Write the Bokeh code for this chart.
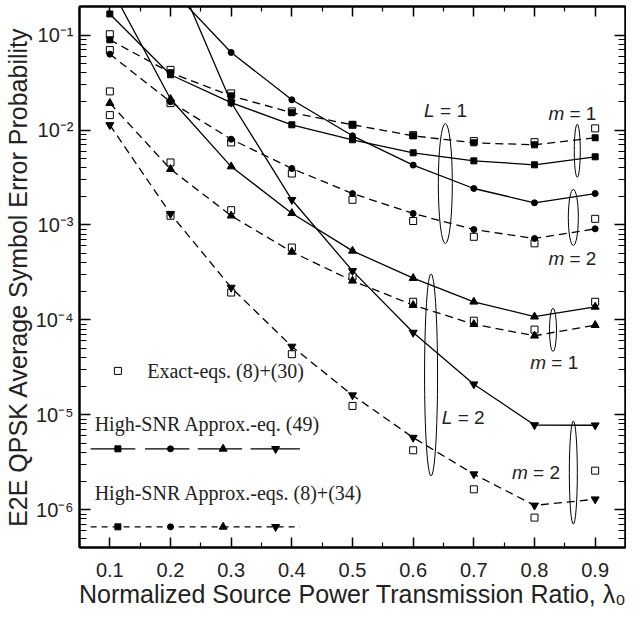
import math
from bokeh.plotting import figure
from bokeh.models import (LogAxis, LinearAxis, FixedTicker, CustomJSTickFormatter, Range1d)
from bokeh.core.properties import value
from bokeh.embed import file_html
from bokeh.resources import INLINE

nan = float("nan")

# ---------------- data ----------------
lam = [0.1, 0.2, 0.3, 0.4, 0.5, 0.6, 0.7, 0.8, 0.9]

# High-SNR approx. eq. (49)  (solid lines)
a49_L1m1 = [0.167, 0.0382, 0.0194, 0.01135, 0.00789, 0.00575, 0.00473, 0.0043, 0.00522]
a49_L1m2 = [nan, 0.31, 0.0656, 0.0208, 0.00869, 0.00427, 0.00242, 0.00171, 0.00214]
a49_L2m1 = [0.33, 0.0212, 0.00412, 0.00133, 0.000533, 0.000275, 0.000155, 0.000108, 0.000137]
a49_L2m2 = [nan, 0.6, 0.0195, 0.00184, 0.000328, 7.35e-5, 2.1e-5, 7.8e-6, 7.76e-6]

# High-SNR approx. eqs. (8)+(34)  (dashed lines)
a34_L1m1 = [0.0892, 0.0401, 0.0229, 0.0152, 0.01135, 0.00869, 0.00733, 0.00698, 0.00828]
a34_L1m2 = [0.063, 0.0198, 0.008, 0.00393, 0.00214, 0.00132, 0.000895, 0.00072, 0.00091]
a34_L2m1 = [0.0192, 0.00387, 0.00125, 0.00052, 0.000258, 0.000143, 9.0e-5, 6.8e-5, 8.8e-5]
a34_L2m2 = [0.0113, 0.00131, 0.000219, 5.24e-5, 1.61e-5, 5.75e-6, 2.37e-6, 1.11e-6, 1.29e-6]

# Exact eqs. (8)+(30)  (open squares)
ex_L1m1 = [0.102, 0.043, 0.0243, 0.0157, 0.01135, 0.00883, 0.00764, 0.00745, 0.0104]
ex_L1m2 = [0.0695, 0.0192, 0.0074, 0.00348, 0.00184, 0.0011, 0.00075, 0.00064, 0.00116]
ex_L2m1 = [0.0255, 0.00455, 0.00143, 0.000578, 0.000286, 0.000155, 9.8e-5, 7.9e-5, 0.000155]
ex_L2m2 = [0.01435, 0.00125, 0.000194, 4.35e-5, 1.24e-5, 4.23e-6, 1.64e-6, 8.26e-7, 2.58e-6]

x_ticks = [0.1, 0.2, 0.3, 0.4, 0.5, 0.6, 0.7, 0.8, 0.9]
x_minor = [0.05, 0.15, 0.25, 0.35, 0.45, 0.55, 0.65, 0.75, 0.85, 0.95]
y_ticks = [1e-6, 1e-5, 1e-4, 1e-3, 1e-2, 1e-1]
y_minor = [k * 10.0 ** e for e in range(-7, 0) for k in range(2, 10)]

x_label = "Normalized Source Power Transmission Ratio, \u03bb\u2080"
y_label = "E2E QPSK Average Symbol Error Probability"
legend_labels = ["Exact-eqs. (8)+(30)", "High-SNR Approx.-eq. (49)", "High-SNR Approx.-eqs. (8)+(34)"]

# ---------------- figure ----------------
SANS = "Liberation Sans"
SERIF = "Liberation Serif"
TXT = "#222222"

p = figure(width=626, height=610, y_axis_type="log",
           x_range=Range1d(0.05, 0.95), y_range=Range1d(4e-7, 0.2),
           output_backend="svg", toolbar_location=None,
           min_border_left=60, min_border_right=1, min_border_top=6, min_border_bottom=63)
p.background_fill_color = "white"
p.border_fill_color = "white"
p.outline_line_color = "black"
p.outline_line_width = 2
p.xgrid.visible = False
p.ygrid.visible = False

sup_js = """
const e = Math.round(Math.log10(tick));
const sup = {'-':'\u207b','0':'\u2070','1':'\u00b9','2':'\u00b2','3':'\u00b3','4':'\u2074','5':'\u2075','6':'\u2076','7':'\u2077','8':'\u2078','9':'\u2079'};
return '10' + String(e).split('').map(c => sup[c]).join('');
"""

def style_axis(ax, major_len, minor_len):
    ax.axis_line_width = 2
    ax.axis_line_color = "black"
    ax.major_tick_in = major_len
    ax.major_tick_out = 0
    ax.minor_tick_in = minor_len
    ax.minor_tick_out = 0
    ax.major_tick_line_width = 1.5
    ax.minor_tick_line_width = 1.2
    ax.major_label_text_font = SANS
    ax.major_label_text_color = TXT
    ax.axis_label_text_font = SANS
    ax.axis_label_text_font_style = "normal"
    ax.axis_label_text_color = TXT

xt = FixedTicker(ticks=x_ticks, minor_ticks=x_minor)
yt = FixedTicker(ticks=y_ticks, minor_ticks=y_minor)

xa = p.xaxis[0]
xa.ticker = xt
style_axis(xa, 10, 5)
xa.major_label_text_font_size = "20px"
xa.major_label_standoff = 15
xa.axis_label = x_label
xa.axis_label_text_font_size = "25px"
xa.axis_label_standoff = 0

ya = p.yaxis[0]
ya.ticker = yt
ya.formatter = CustomJSTickFormatter(code=sup_js)
style_axis(ya, 11, 7)
ya.major_label_text_font_size = "20px"
ya.major_label_standoff = 6
ya.axis_label = y_label
ya.axis_label_text_font_size = "25px"
ya.axis_label_standoff = 1

top = LinearAxis(ticker=xt, formatter=CustomJSTickFormatter(code="return ''"))
style_axis(top, 10, 5)
top.major_label_text_font_size = "0px"
top.major_label_standoff = 0
p.add_layout(top, "above")

right = LogAxis(ticker=yt, formatter=CustomJSTickFormatter(code="return ''"))
style_axis(right, 11, 7)
right.major_label_text_font_size = "0px"
right.major_label_standoff = 0
p.add_layout(right, "right")

# ---------------- curves ----------------
LW = 1.3
DASH = "8 5"
series = [
    (a49_L1m1, a34_L1m1, ex_L1m1, "square", 6),
    (a49_L1m2, a34_L1m2, ex_L1m2, "circle", 6),
    (a49_L2m1, a34_L2m1, ex_L2m1, "triangle", 8),
    (a49_L2m2, a34_L2m2, ex_L2m2, "inverted_triangle", 8),
]
for s49, s34, sex, mk, ms in series:
    p.line(lam, s49, line_color="black", line_width=LW)
    p.line(lam, s34, line_color="black", line_width=LW, line_dash=DASH)
for s49, s34, sex, mk, ms in series:
    p.scatter(lam, sex, marker="square", size=7, fill_color="white", line_color="black", line_width=1)
for s49, s34, sex, mk, ms in series:
    p.scatter(lam, s49, marker=mk, size=ms, fill_color="black", line_color="black")
    p.scatter(lam, s34, marker=mk, size=ms, fill_color="black", line_color="black")

# ---------------- annotations ----------------
def lab(x, y, name, num):
    p.text([x], [y], text=[name], text_font=value(SANS), text_font_style="italic",
           text_font_size="19px", text_baseline="middle", text_align="left", text_color=TXT)
    off = 16 if name == "L" else 21
    p.text([x], [y], text=["= " + num], text_font=value(SANS), text_font_size="19px",
           text_baseline="middle", text_align="left", x_offset=off, text_color=TXT)

lab(0.618, 0.0159, "L", "1")
lab(0.823, 0.0148, "m", "1")
lab(0.823, 4.4e-4, "m", "2")
lab(0.793, 3.52e-5, "m", "1")
lab(0.647, 9.27e-6, "L", "2")
lab(0.763, 2.44e-6, "m", "2")

ell_x = [0.653, 0.8705, 0.864, 0.8305, 0.6295, 0.864]
ell_y = [2.73e-3, 6.04e-3, 1.2e-3, 7.85e-5, 2.63e-5, 2.46e-6]
ell_w = [14, 6, 10, 7, 13, 8]
ell_h = [120, 53, 56, 43, 202, 103]
p.ellipse(ell_x, ell_y, width=ell_w, height=ell_h, width_units="screen", height_units="screen",
          fill_color=None, line_color="black", line_width=1)

# ---------------- legend (drawn) ----------------
lg_mx = [0.1133, 0.2, 0.2867, 0.3733]
p.scatter([0.1133], [2.9e-5], marker="square", size=7, fill_color="white", line_color="black", line_width=1)
p.text([0.1617], [2.9e-5], text=[legend_labels[0]], text_font=value(SERIF), text_font_size="20px",
       text_baseline="middle", text_color=TXT)
p.text([0.075], [8.0e-6], text=[legend_labels[1]], text_font=value(SERIF), text_font_size="20px",
       text_baseline="middle", text_color=TXT)
p.text([0.075], [1.5e-6], text=[legend_labels[2]], text_font=value(SERIF), text_font_size="20px",
       text_baseline="middle", text_color=TXT)
y_l2 = 4.38e-6
y_l3 = 6.6e-7
p.segment(x0=[0.0683, 0.158, 0.245, 0.332], y0=[y_l2] * 4,
          x1=[0.142, 0.231, 0.318, 0.4133], y1=[y_l2] * 4, line_color="black", line_width=LW)
p.line([0.0683, 0.4133], [y_l3, y_l3], line_color="black", line_width=LW, line_dash="6 5")
for mx, (s49, s34, sex, mk, ms) in zip(lg_mx, series):
    p.scatter([mx], [y_l2], marker=mk, size=ms, fill_color="black", line_color="black")
    p.scatter([mx], [y_l3], marker=mk, size=ms, fill_color="black", line_color="black")

open("out.html", "w").write(file_html(p, INLINE))
